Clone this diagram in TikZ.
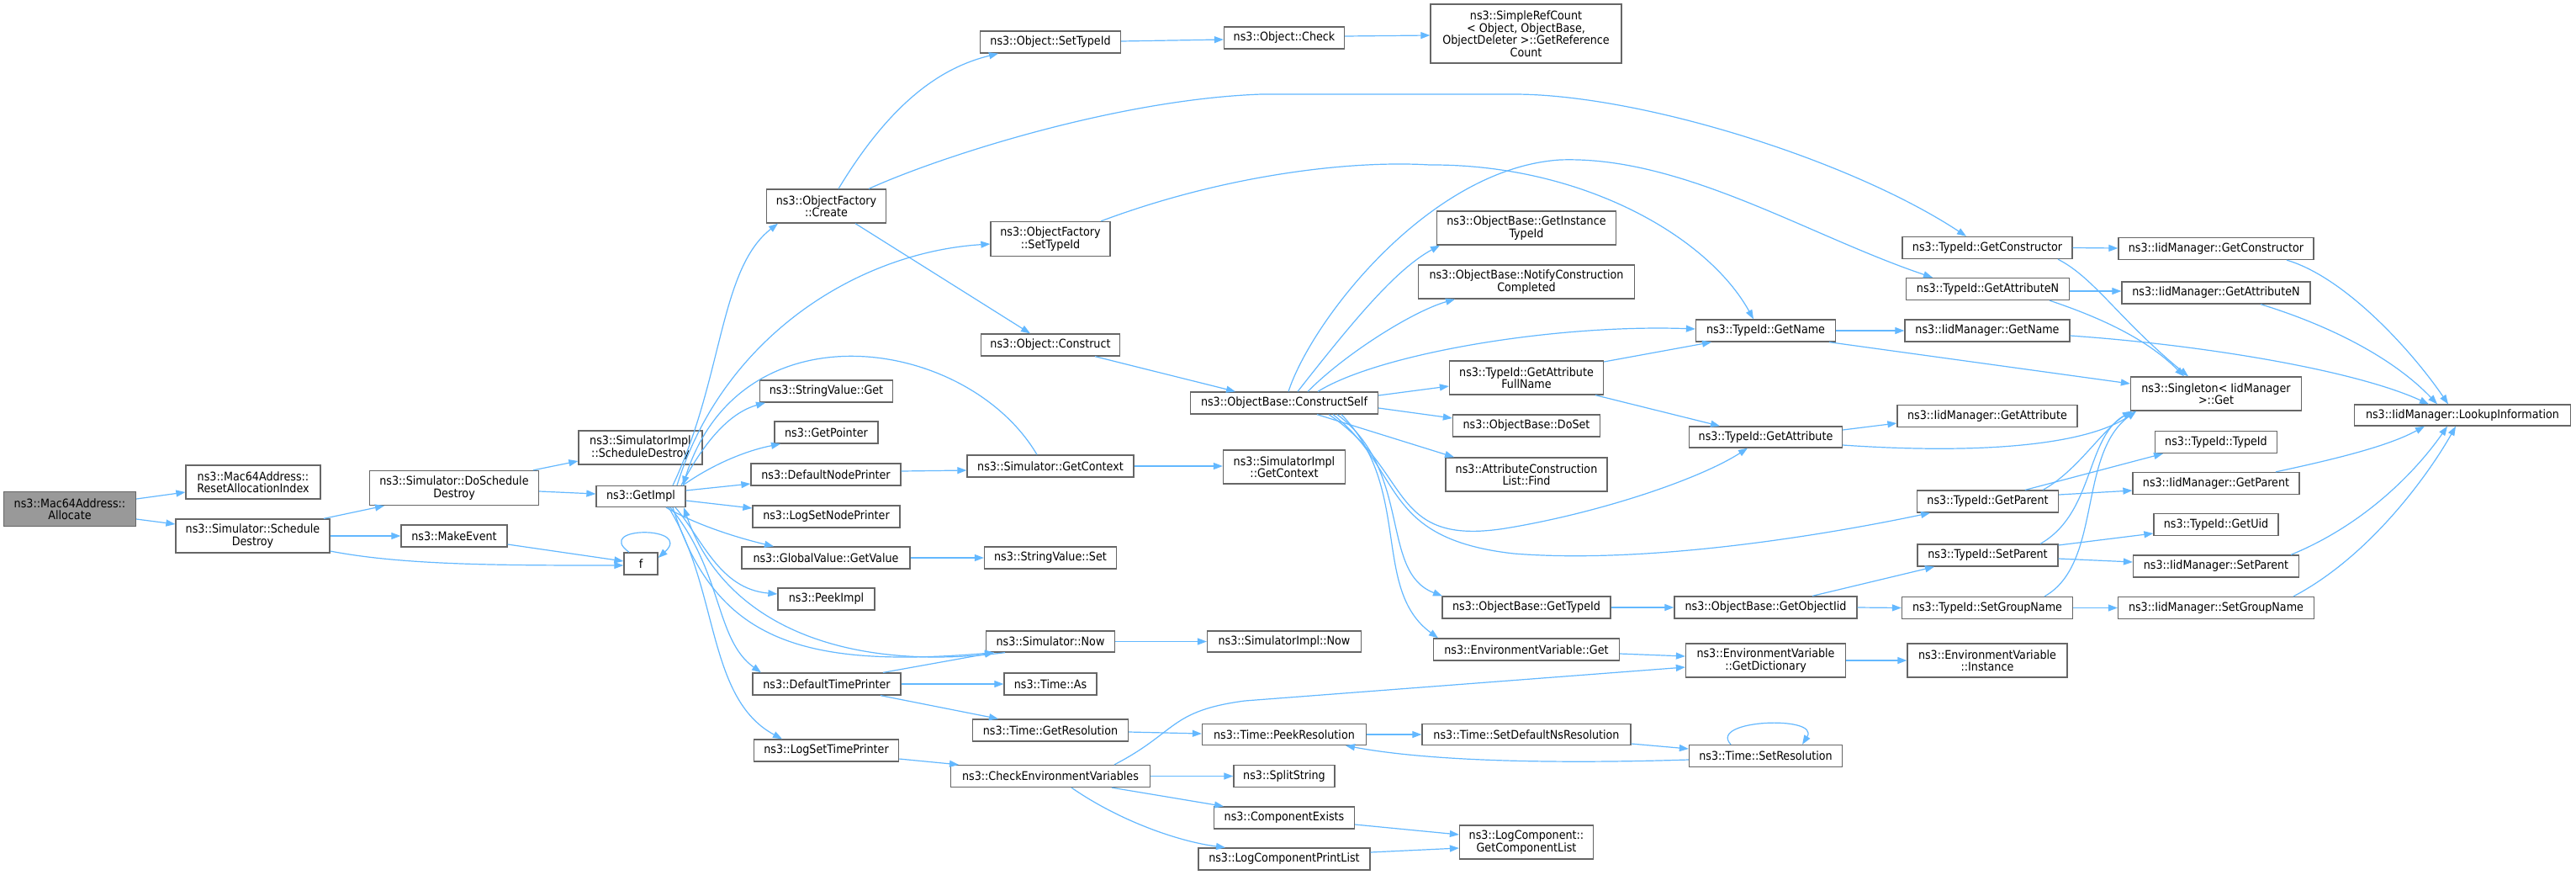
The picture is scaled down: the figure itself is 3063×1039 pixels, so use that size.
\documentclass[tikz,border=0pt]{standalone}
\usepackage{fontspec}
\newfontfamily\dvs{DejaVu Sans Condensed}
\usetikzlibrary{arrows.meta}
\definecolor{edgeblue}{HTML}{63B8FF}
\definecolor{boxgray}{HTML}{666666}
\definecolor{mainfill}{HTML}{999999}
\newcommand\mknode[6]{\node[nbox,minimum width=#4bp,minimum height=#5bp] (#1) at (#2,#3) {#6};}
\tikzset{
  nbox/.style={draw=boxgray, line width=1.3bp, fill=white, inner sep=0pt, align=center,
     font=\dvs\fontsize{14.2}{14.6}\selectfont, text=black},
  edgeln/.style={draw=edgeblue, line width=1.2bp, -{Triangle[length=11bp,width=8bp]}},
}
\begin{document}
\begin{tikzpicture}[x=1bp,y=-1bp]
\fill[white] (0,0) rectangle (3063,1039);
\useasboundingbox (0,0) rectangle (3063,1039);
% ---- nodes
\node[nbox,fill=mainfill,minimum width=157bp,minimum height=41bp] (alloc) at (83,605) {ns3::Mac64Address::\\Allocate};
\mknode{reset}{301}{573}{160}{40}{ns3::Mac64Address::\\ResetAllocationIndex}
\mknode{sd}{300.5}{637}{183}{40}{ns3::Simulator::Schedule\\Destroy}
\mknode{dosd}{540}{580}{201}{41}{ns3::Simulator::DoSchedule\\Destroy}
\mknode{simsd}{761.5}{532}{147}{40}{ns3::SimulatorImpl\\::ScheduleDestroy}
\mknode{getimpl}{762}{590}{106}{25}{ns3::GetImpl}
\mknode{mkev}{540}{637}{126}{26}{ns3::MakeEvent}
\mknode{f}{762}{670}{40}{26}{f}
\mknode{create}{982.5}{245}{142}{40}{ns3::ObjectFactory\\::Create}
\mknode{ofst}{1249}{284}{142}{41}{ns3::ObjectFactory\\::SetTypeId}
\mknode{ost}{1249}{50}{167}{26}{ns3::Object::SetTypeId}
\mknode{check}{1527}{45}{143}{26}{ns3::Object::Check}
\mknode{src}{1814.5}{40}{227}{70}{ns3::SimpleRefCount\\< Object, ObjectBase,\\ObjectDeleter >::GetReference\\Count}
\mknode{construct}{1249}{410}{165}{26}{ns3::Object::Construct}
\mknode{svget}{982.5}{465}{158}{26}{ns3::StringValue::Get}
\mknode{getptr}{982.5}{514}{123}{26}{ns3::GetPointer}
\mknode{dnp}{982}{564}{178}{26}{ns3::DefaultNodePrinter}
\mknode{getctx}{1249}{554}{198}{26}{ns3::Simulator::GetContext}
\mknode{simctx}{1527}{555}{145}{40}{ns3::SimulatorImpl\\::GetContext}
\mknode{cself}{1527}{479}{223}{26}{ns3::ObjectBase::ConstructSelf}
\mknode{lsnp}{982.5}{614}{175}{26}{ns3::LogSetNodePrinter}
\mknode{gvget}{982}{663}{200}{26}{ns3::GlobalValue::GetValue}
\mknode{svset}{1249}{663}{157}{26}{ns3::StringValue::Set}
\mknode{peek}{982.5}{712}{115}{26}{ns3::PeekImpl}
\mknode{now}{1249}{762.5}{153}{25}{ns3::Simulator::Now}
\mknode{simnow}{1527}{762.5}{183}{25}{ns3::SimulatorImpl::Now}
\mknode{dtp}{983}{813}{176}{26}{ns3::DefaultTimePrinter}
\mknode{tas}{1249}{813}{110}{26}{ns3::Time::As}
\mknode{getres}{1249}{868}{185}{26}{ns3::Time::GetResolution}
\mknode{peekres}{1527}{873}{195}{25}{ns3::Time::PeekResolution}
\mknode{lstp}{982.6}{892}{172}{26}{ns3::LogSetTimePrinter}
\mknode{cev}{1249}{922.5}{237}{26}{ns3::CheckEnvironmentVariables}
\mknode{split}{1527}{922.5}{120}{26}{ns3::SplitString}
\mknode{cexists}{1527}{972}{167}{26}{ns3::ComponentExists}
\mknode{lcpl}{1527}{1021}{204}{26}{ns3::LogComponentPrintList}
\mknode{gitid}{1815}{271}{213}{40}{ns3::ObjectBase::GetInstance\\TypeId}
\mknode{notify}{1815}{335}{257}{40}{ns3::ObjectBase::NotifyConstruction\\Completed}
\mknode{gafn}{1815}{449}{183}{40}{ns3::TypeId::GetAttribute\\FullName}
\mknode{doset}{1815}{506}{175}{26}{ns3::ObjectBase::DoSet}
\mknode{acl}{1815}{564}{192}{40}{ns3::AttributeConstruction\\List::Find}
\mknode{tgname}{2099.5}{393}{166}{26}{ns3::TypeId::GetName}
\mknode{tgattr}{2099.5}{519.5}{182}{25}{ns3::TypeId::GetAttribute}
\mknode{obgtid}{1815}{722}{200}{26}{ns3::ObjectBase::GetTypeId}
\mknode{obgoid}{2099.5}{722}{217}{26}{ns3::ObjectBase::GetObjectIid}
\mknode{evget}{1815}{772}{221}{26}{ns3::EnvironmentVariable::Get}
\mknode{evdict}{2099.5}{785}{190}{40}{ns3::EnvironmentVariable\\::GetDictionary}
\mknode{sdns}{1815}{873}{248}{25}{ns3::Time::SetDefaultNsResolution}
\mknode{setres}{2099.5}{898.5}{182}{26}{ns3::Time::SetResolution}
\mknode{lcgcl}{1815}{1001}{159}{40}{ns3::LogComponent::\\GetComponentList}
\mknode{tgctor}{2363}{294.5}{202}{26}{ns3::TypeId::GetConstructor}
\mknode{tgattrn}{2363.5}{343.5}{194}{26}{ns3::TypeId::GetAttributeN}
\mknode{imgname}{2363}{393}{196}{26}{ns3::IidManager::GetName}
\mknode{imgattr}{2363}{494.5}{214}{26}{ns3::IidManager::GetAttribute}
\mknode{tgpar}{2363.5}{596}{168}{26}{ns3::TypeId::GetParent}
\mknode{tspar}{2363.5}{660}{167}{26}{ns3::TypeId::SetParent}
\mknode{tsgn}{2363}{722.5}{203}{26}{ns3::TypeId::SetGroupName}
\mknode{evinst}{2363}{785}{190}{40}{ns3::EnvironmentVariable\\::Instance}
\mknode{imgctor}{2635}{295.5}{232}{26}{ns3::IidManager::GetConstructor}
\mknode{imgattrn}{2635}{348}{224}{26}{ns3::IidManager::GetAttributeN}
\mknode{single}{2635}{468}{203}{40}{ns3::Singleton< IidManager\\>::Get}
\mknode{tidtid}{2635}{525.5}{145}{26}{ns3::TypeId::TypeId}
\mknode{imgpar}{2635}{574.5}{198}{26}{ns3::IidManager::GetParent}
\mknode{tguid}{2635}{623.5}{148}{26}{ns3::TypeId::GetUid}
\mknode{imspar}{2635}{673}{197}{26}{ns3::IidManager::SetParent}
\mknode{imsgn}{2635}{722.5}{233}{26}{ns3::IidManager::SetGroupName}
\mknode{lookup}{2928}{493.5}{257}{25}{ns3::IidManager::LookupInformation}
% ---- edges: left part
\draw[edgeln] (alloc.east |- 0,593) -- (reset.west |- 0,585);
\draw[edgeln] (alloc.east |- 0,617) -- (sd.west |- 0,623);
\draw[edgeln] (sd.north -| 385,0) -- (dosd.south -| 457,0);
\draw[edgeln] (sd.east) -- (mkev.west);
\draw[edgeln] (sd.east |- 0,655) .. controls (480,672) and (600,672) .. (f.west |- 0,672);
\draw[edgeln] (mkev.east |- 0,647) -- (f.west |- 0,667);
\draw[edgeln] (f.north -| 748,0) .. controls (705,625) and (825,625) .. (f.east |- 0,663);
\draw[edgeln] (dosd.north -| 634,0) -- (simsd.west |- 0,548);
\draw[edgeln] (dosd.east |- 0,584) -- (getimpl.west |- 0,587);
% ---- GetImpl
\draw[edgeln] (getimpl.north -| 800,0) .. controls (860,450) and (855,320) .. (create.south -| 925,0);
\draw[edgeln] (getimpl.north -| 805,0) .. controls (860,400) and (1020,300) .. (ofst.west |- 0,290);
\draw[edgeln] (getimpl.north -| 810,0) .. controls (840,520) and (870,490) .. (svget.south -| 910,0);
\draw[edgeln] (getimpl.north -| 812,0) .. controls (850,550) and (890,535) .. (getptr.south -| 928,0);
\draw[edgeln] (getimpl.east |- 0,583) -- (dnp.west |- 0,575);
\draw[edgeln] (getimpl.east |- 0,595) -- (lsnp.west |- 0,604);
\draw[edgeln] (getimpl.south -| 792,0) .. controls (830,625) and (880,640) .. (gvget.north -| 920,0);
\draw[edgeln] (getimpl.south -| 803,0) .. controls (835,640) and (855,700) .. (peek.west |- 0,706);
\draw[edgeln] (getimpl.south -| 800,0) .. controls (850,760) and (950,795) .. (now.south -| 1182,0);
\draw[edgeln] (now.south -| 1195,0) .. controls (1000,800) and (860,740) .. (getimpl.south -| 813,0);
\draw[edgeln] (getimpl.south -| 797,0) .. controls (860,680) and (850,760) .. (dtp.north -| 905,0);
\draw[edgeln] (getimpl.south -| 795,0) .. controls (855,700) and (840,830) .. (lstp.north -| 930,0);
\draw[edgeln] (getctx.north -| 1233,0) .. controls (1150,400) and (880,360) .. (getimpl.north -| 812,0);
\draw[edgeln] (dnp.east |- 0,560) -- (getctx.west |- 0,559);
\draw[edgeln] (getctx.east) -- (simctx.west |- 0,554);
\draw[edgeln] (gvget.east) -- (svset.west);
% ---- ObjectFactory
\draw[edgeln] (create.north -| 997,0) .. controls (1060,120) and (1120,80) .. (ost.south -| 1187,0);
\draw[edgeln] (ost.east |- 0,49) -- (check.west |- 0,47);
\draw[edgeln] (check.east |- 0,43) -- (src.west |- 0,42);
\draw[edgeln] (create.south -| 1017,0) -- (construct.north -| 1225,0);
\draw[edgeln] (construct.south -| 1302,0) -- (cself.north -| 1469,0);
\draw[edgeln] (create.north -| 1033,0) .. controls (1120,185) and (1330,118) .. (1500,112) -- (1800,112) .. controls (1950,112) and (2200,190) .. (tgctor.north -| 2338,0);
\draw[edgeln] (ofst.north -| 1309,0) .. controls (1450,210) and (1600,190) .. (1700,196) .. controls (1880,195) and (2030,280) .. (tgname.north -| 2085,0);
% ---- ConstructSelf fan
\draw[edgeln] (cself.north -| 1532,0) .. controls (1560,380) and (1700,200) .. (1855,190) .. controls (2000,185) and (2150,280) .. (tgattrn.north -| 2298,0);
\draw[edgeln] (cself.north -| 1543,0) .. controls (1610,380) and (1660,320) .. (gitid.south -| 1712,0);
\draw[edgeln] (cself.north -| 1555,0) .. controls (1600,420) and (1680,370) .. (notify.south -| 1730,0);
\draw[edgeln] (cself.north -| 1567,0) .. controls (1640,420) and (1850,385) .. (tgname.west |- 0,391);
\draw[edgeln] (cself.east |- 0,470) -- (gafn.west |- 0,459);
\draw[edgeln] (cself.east |- 0,485) -- (doset.west |- 0,497);
\draw[edgeln] (cself.south -| 1566,0) -- (acl.north -| 1729,0);
\draw[edgeln] (cself.south -| 1580,0) .. controls (1680,560) and (1650,650) .. (1790,628) .. controls (1900,610) and (2020,570) .. (tgattr.south -| 2078,0);
\draw[edgeln] (cself.south -| 1585,0) .. controls (1670,560) and (1640,640) .. (1800,658) .. controls (1950,670) and (2150,640) .. (tgpar.south -| 2295,0);
\draw[edgeln] (cself.south -| 1590,0) .. controls (1680,560) and (1640,680) .. (obgtid.north -| 1715,0);
\draw[edgeln] (cself.south -| 1595,0) .. controls (1680,580) and (1630,700) .. (evget.north -| 1710,0);
% ---- TypeId column
\draw[edgeln] (gafn.east |- 0,430) -- (tgname.south -| 2035,0);
\draw[edgeln] (gafn.south -| 1897,0) -- (tgattr.north -| 2045,0);
\draw[edgeln] (tgname.east) -- (imgname.west);
\draw[edgeln] (tgname.south -| 2175,0) -- (single.west |- 0,456);
\draw[edgeln] (tgattr.east |- 0,511) -- (imgattr.west |- 0,503);
\draw[edgeln] (tgattr.east |- 0,529) .. controls (2350,540) and (2480,530) .. (single.south -| 2540,0);
\draw[edgeln] (tgctor.east) -- (imgctor.west |- 0,295);
\draw[edgeln] (tgctor.south -| 2447,0) .. controls (2490,330) and (2520,380) .. (single.north -| 2602,0);
\draw[edgeln] (tgattrn.east |- 0,346) -- (imgattrn.west |- 0,346);
\draw[edgeln] (tgattrn.south -| 2437,0) .. controls (2490,375) and (2550,400) .. (single.north -| 2597,0);
\draw[edgeln] (imgname.east |- 0,399) .. controls (2620,410) and (2800,440) .. (lookup.north -| 2888,0);
\draw[edgeln] (imgctor.south -| 2719,0) .. controls (2790,330) and (2870,420) .. (lookup.north -| 2911,0);
\draw[edgeln] (imgattrn.south -| 2688,0) .. controls (2780,390) and (2850,430) .. (lookup.north -| 2898,0);
\draw[edgeln] (imgpar.north -| 2706,0) .. controls (2780,545) and (2840,530) .. (lookup.south -| 2883,0);
\draw[edgeln] (imspar.north -| 2724,0) .. controls (2820,620) and (2880,550) .. (lookup.south -| 2910,0);
\draw[edgeln] (imsgn.north -| 2727,0) .. controls (2820,660) and (2890,560) .. (lookup.south -| 2920,0);
\draw[edgeln] (tgpar.north -| 2408,0) -- (tidtid.south -| 2572,0);
\draw[edgeln] (tgpar.east |- 0,588) -- (imgpar.west |- 0,583);
\draw[edgeln] (tgpar.north -| 2429,0) .. controls (2470,560) and (2500,510) .. (single.south -| 2535,0);
\draw[edgeln] (tspar.east |- 0,648) -- (tguid.west |- 0,634);
\draw[edgeln] (tspar.east |- 0,664) -- (imspar.west |- 0,668);
\draw[edgeln] (tspar.north -| 2426,0) .. controls (2490,610) and (2480,520) .. (single.south -| 2535,0);
\draw[edgeln] (tsgn.east) -- (imsgn.west);
\draw[edgeln] (tsgn.north -| 2431,0) .. controls (2500,670) and (2470,540) .. (single.south -| 2540,0);
\draw[edgeln] (obgoid.north -| 2155,0) -- (tspar.south -| 2300,0);
\draw[edgeln] (obgoid.east) -- (tsgn.west);
\draw[edgeln] (obgtid.east) -- (obgoid.west);
\draw[edgeln] (evget.east |- 0,777) -- (evdict.west |- 0,780);
\draw[edgeln] (evdict.east) -- (evinst.west);
\draw[edgeln] (cev.north -| 1325,0) .. controls (1400,870) and (1390,845) .. (1480,833) -- (evdict.west |- 0,793);
% ---- time / log part
\draw[edgeln] (dtp.north -| 1050,0) -- (now.south -| 1182,0);
\draw[edgeln] (now.east) -- (simnow.west);
\draw[edgeln] (dtp.east) -- (tas.west);
\draw[edgeln] (dtp.south -| 1047,0) -- (getres.north -| 1187,0);
\draw[edgeln] (getres.east |- 0,870) -- (peekres.west |- 0,872);
\draw[edgeln] (lstp.east |- 0,902) -- (cev.north -| 1140,0);
\draw[edgeln] (cev.east) -- (split.west);
\draw[edgeln] (cev.south -| 1322,0) -- (cexists.north -| 1455,0);
\draw[edgeln] (cev.south -| 1274,0) .. controls (1330,975) and (1400,1000) .. (lcpl.north -| 1457,0);
\draw[edgeln] (cexists.east |- 0,980) -- (lcgcl.west |- 0,992);
\draw[edgeln] (lcpl.east |- 0,1013) -- (lcgcl.west |- 0,1008);
\draw[edgeln] (peekres.east) -- (sdns.west);
\draw[edgeln] (sdns.east |- 0,884) -- (setres.west |- 0,890);
\draw[edgeln] (setres.west |- 0,903) .. controls (1850,908) and (1700,905) .. (peekres.south -| 1600,0);
\draw[edgeln] (setres.north -| 2058,0) .. controls (2030,855) and (2165,850) .. (setres.north -| 2143,0);
\end{tikzpicture}
\end{document}
